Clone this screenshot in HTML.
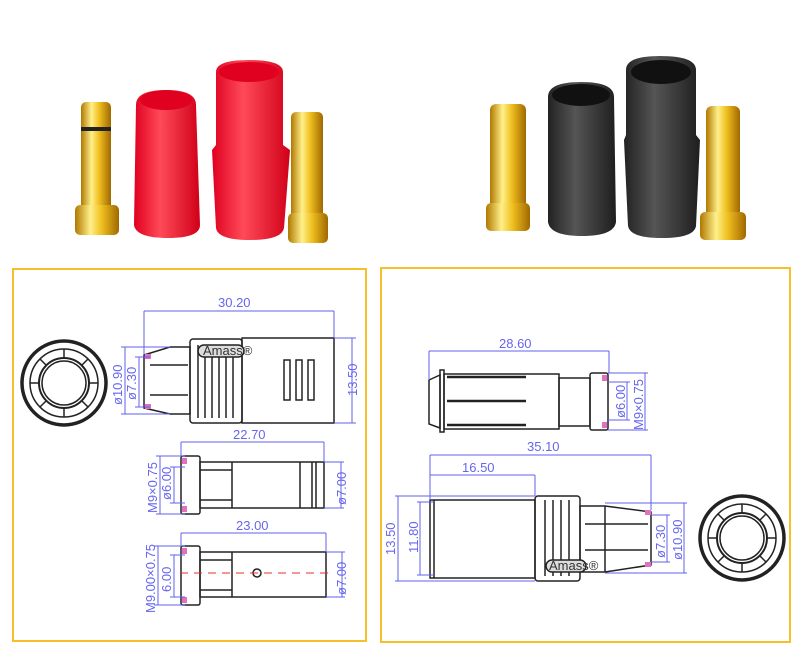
<!DOCTYPE html>
<html><head><meta charset="utf-8"><style>
html,body{margin:0;padding:0;background:#fff;width:800px;height:664px;overflow:hidden}
svg{display:block}
text{font-family:"Liberation Sans",sans-serif;fill:#6666ee;font-size:13px}
</style></head><body>
<svg width="800" height="664" viewBox="0 0 800 664" xmlns="http://www.w3.org/2000/svg">
<defs>
<linearGradient id="gold" x1="0" x2="1"><stop offset="0" stop-color="#b07800"/><stop offset=".35" stop-color="#fff08a"/><stop offset=".6" stop-color="#f0c020"/><stop offset="1" stop-color="#a06800"/></linearGradient>
<linearGradient id="red" x1="0" x2="1"><stop offset="0" stop-color="#e00020"/><stop offset=".4" stop-color="#ff4a58"/><stop offset="1" stop-color="#d00018"/></linearGradient>
<linearGradient id="blk" x1="0" x2="1"><stop offset="0" stop-color="#222"/><stop offset=".4" stop-color="#555"/><stop offset="1" stop-color="#1e1e1e"/></linearGradient>
</defs>
<g>
<rect x="81" y="102" width="30" height="108" rx="5" fill="url(#gold)"/>
<rect x="81" y="127" width="30" height="4" fill="#222"/>
<rect x="75" y="205" width="44" height="30" rx="5" fill="url(#gold)"/>
<path d="M136 105 Q136 90 166 90 Q196 90 196 105 L200 225 Q200 238 168 238 Q136 238 134 225Z" fill="url(#red)"/>
<ellipse cx="166" cy="100" rx="26" ry="10" fill="#e00020"/>
<path d="M216 72 Q216 60 249 60 Q283 60 283 72 L283 145 L290 150 L284 228 Q282 240 250 240 Q218 240 216 228 L212 150 L216 145Z" fill="url(#red)"/>
<ellipse cx="249" cy="72" rx="30" ry="10" fill="#e00020"/>
<rect x="291" y="112" width="32" height="110" rx="5" fill="url(#gold)"/>
<rect x="288" y="213" width="40" height="30" rx="5" fill="url(#gold)"/>
<rect x="490" y="104" width="36" height="112" rx="6" fill="url(#gold)"/>
<rect x="486" y="203" width="44" height="28" rx="5" fill="url(#gold)"/>
<path d="M548 97 Q548 82 581 82 Q614 82 614 97 L616 222 Q614 236 582 236 Q550 236 548 222Z" fill="url(#blk)"/>
<ellipse cx="581" cy="95" rx="29" ry="11" fill="#111"/>
<path d="M626 70 Q626 56 660 56 Q696 56 696 70 L696 135 L700 140 L696 226 Q694 238 662 238 Q630 238 628 226 L624 140 L626 135Z" fill="url(#blk)"/>
<ellipse cx="661" cy="72" rx="30" ry="12" fill="#111"/>
<rect x="706" y="106" width="34" height="112" rx="6" fill="url(#gold)"/>
<rect x="700" y="212" width="46" height="28" rx="5" fill="url(#gold)"/>
</g>
<rect x="13" y="269" width="353" height="372" fill="none" stroke="#f5c02a" stroke-width="2"/>
<rect x="381" y="268" width="409" height="374" fill="none" stroke="#f5c02a" stroke-width="2"/>
<g fill="none" stroke="#222" stroke-width="1.5">
<circle cx="64" cy="383" r="42" stroke-width="3.5"/>
<circle cx="64" cy="383" r="34"/>
<circle cx="64" cy="383" r="25" stroke-width="2"/>
<circle cx="64" cy="383" r="22"/>
<path d="M64 349 V358 M64 408 V417 M30 383 H39 M89 383 H98 M40 359 L46 365 M88 359 L82 365 M40 407 L46 401 M88 407 L82 401"/>
<path d="M144 355 L170 347 L190 347 L190 414 L170 414 L144 408Z"/>
<rect x="190" y="339" width="52" height="84" rx="3"/>
<path d="M198 345 V418 M205 345 V418 M212 345 V418 M219 345 V418 M226 345 V418 M233 345 V418"/>
<rect x="242" y="338" width="92" height="85"/>
<rect x="284" y="360" width="6" height="40"/><rect x="296" y="360" width="6" height="40"/><rect x="308" y="360" width="6" height="40"/>
<path d="M150 365 H188 M150 395 H188"/>
<rect x="198" y="345" width="46" height="12" rx="6" fill="#ddd"/>
<rect x="181" y="456" width="19" height="58" rx="2"/>
<rect x="200" y="462" width="124" height="46"/>
<path d="M232 462 V508 M300 462 V508 M312 462 V508 M316 462 V508 M200 470 H232 M200 500 H232"/>
<rect x="181" y="546" width="19" height="59" rx="2"/>
<rect x="200" y="552" width="126" height="45"/>
<path d="M232 552 V597 M200 560 H232 M200 590 H232"/>
<circle cx="257" cy="573" r="4"/>
<path d="M429 380 L440 375 L440 428 L429 424Z"/>
<rect x="440" y="370" width="4" height="62"/>
<rect x="444" y="374" width="115" height="55"/>
<path d="M447 377 H526 M447 401 H526 M447 425 H526" stroke-width="2.5"/>
<rect x="559" y="378" width="31" height="48"/>
<rect x="590" y="373" width="18" height="57" rx="2"/>
<rect x="430" y="500" width="105" height="78"/>
<path d="M434 500 V578"/>
<rect x="535" y="496" width="45" height="85" rx="3"/>
<path d="M545 500 V576 M553 500 V576 M561 500 V576 M569 500 V576"/>
<path d="M580 506 L605 506 L651 512 L651 565 L605 572 L580 572Z"/>
<path d="M605 506 V572 M585 524 H648 M585 550 H648"/>
<rect x="546" y="560" width="40" height="12" rx="6" fill="#ddd"/>
<circle cx="742" cy="538" r="42" stroke-width="3.5"/>
<circle cx="742" cy="538" r="34"/>
<circle cx="742" cy="538" r="25" stroke-width="2"/>
<circle cx="742" cy="538" r="22"/>
<path d="M742 504 V513 M742 563 V572 M708 538 H717 M767 538 H776 M718 514 L724 520 M766 514 L760 520 M718 562 L724 556 M766 562 L760 556"/>
</g>
<g fill="#e070c0">
<rect x="145" y="354" width="6" height="5"/><rect x="145" y="404" width="6" height="5"/>
<rect x="182" y="458" width="5" height="6"/><rect x="182" y="506" width="5" height="6"/>
<rect x="182" y="548" width="5" height="6"/><rect x="182" y="597" width="5" height="6"/>
<rect x="602" y="375" width="5" height="6"/><rect x="602" y="422" width="5" height="6"/>
<rect x="645" y="510" width="6" height="5"/><rect x="645" y="562" width="6" height="5"/>
</g>
<line x1="180" y1="573" x2="330" y2="573" stroke="#e03030" stroke-dasharray="8,6"/>
<text x="203" y="355" font-size="8" style="fill:#333">Amass®</text>
<text x="549" y="570" font-size="8" style="fill:#333">Amass®</text>
<g stroke="#6060ee" stroke-width="1" fill="none">
<path d="M144 311 H334 M144 311 V355 M334 311 V338"/>
<path d="M352 338 V423 M334 338 H356 M334 423 H356"/>
<path d="M125 347 V414 M121 347 H170 M121 414 H170 M139 357 V407 M135 357 H150 M135 407 H150"/>
<path d="M181 442 H324 M181 442 V456 M324 442 V462"/>
<path d="M341 462 V508 M324 462 H344 M324 508 H344"/>
<path d="M160 456 V514 M156 456 H185 M156 514 H185 M174 467 V503 M170 467 H185 M170 503 H185"/>
<path d="M181 533 H326 M181 533 V546 M326 533 V552"/>
<path d="M342 552 V597 M326 552 H345 M326 597 H345"/>
<path d="M158 546 V605 M154 546 H185 M154 605 H185 M174 555 V597 M170 555 H185 M170 597 H185"/>
<path d="M429 351 H609 M429 351 V380 M609 351 V373"/>
<path d="M627 382 V420 M608 382 H630 M608 420 H630 M645 373 V430 M608 373 H648 M608 430 H648"/>
<path d="M430 455 H651 M430 455 V500 M651 455 V510"/>
<path d="M430 475 H535 M535 475 V496"/>
<path d="M398 496 V581 M395 496 H535 M395 581 H535 M420 502 V575 M417 502 H434 M417 575 H434"/>
<path d="M667 515 V562 M651 515 H670 M651 562 H670 M684 503 V573 M605 503 H687 M605 573 H687"/>
</g>
<text x="218" y="307">30.20</text>
<text x="233" y="439">22.70</text>
<text x="236" y="530">23.00</text>
<text x="499" y="348">28.60</text>
<text x="527" y="451">35.10</text>
<text x="462" y="472">16.50</text>
<g font-size="12">
<text transform="translate(357,396) rotate(-90)">13.50</text>
<text transform="translate(122,405) rotate(-90)">ø10.90</text>
<text transform="translate(136,400) rotate(-90)">ø7.30</text>
<text transform="translate(346,505) rotate(-90)">ø7.00</text>
<text transform="translate(346,595) rotate(-90)">ø7.00</text>
<text transform="translate(157,513) rotate(-90)">M9×0.75</text>
<text transform="translate(171,500) rotate(-90)">ø6.00</text>
<text transform="translate(155,613) rotate(-90)">M9.00×0.75</text>
<text transform="translate(171,592) rotate(-90)">6.00</text>
<text transform="translate(625,418) rotate(-90)">ø6.00</text>
<text transform="translate(643,430) rotate(-90)">M9×0.75</text>
<text transform="translate(395,555) rotate(-90)">13.50</text>
<text transform="translate(418,553) rotate(-90)">11.80</text>
<text transform="translate(665,558) rotate(-90)">ø7.30</text>
<text transform="translate(682,560) rotate(-90)">ø10.90</text>
</g>
</svg>
</body></html>
